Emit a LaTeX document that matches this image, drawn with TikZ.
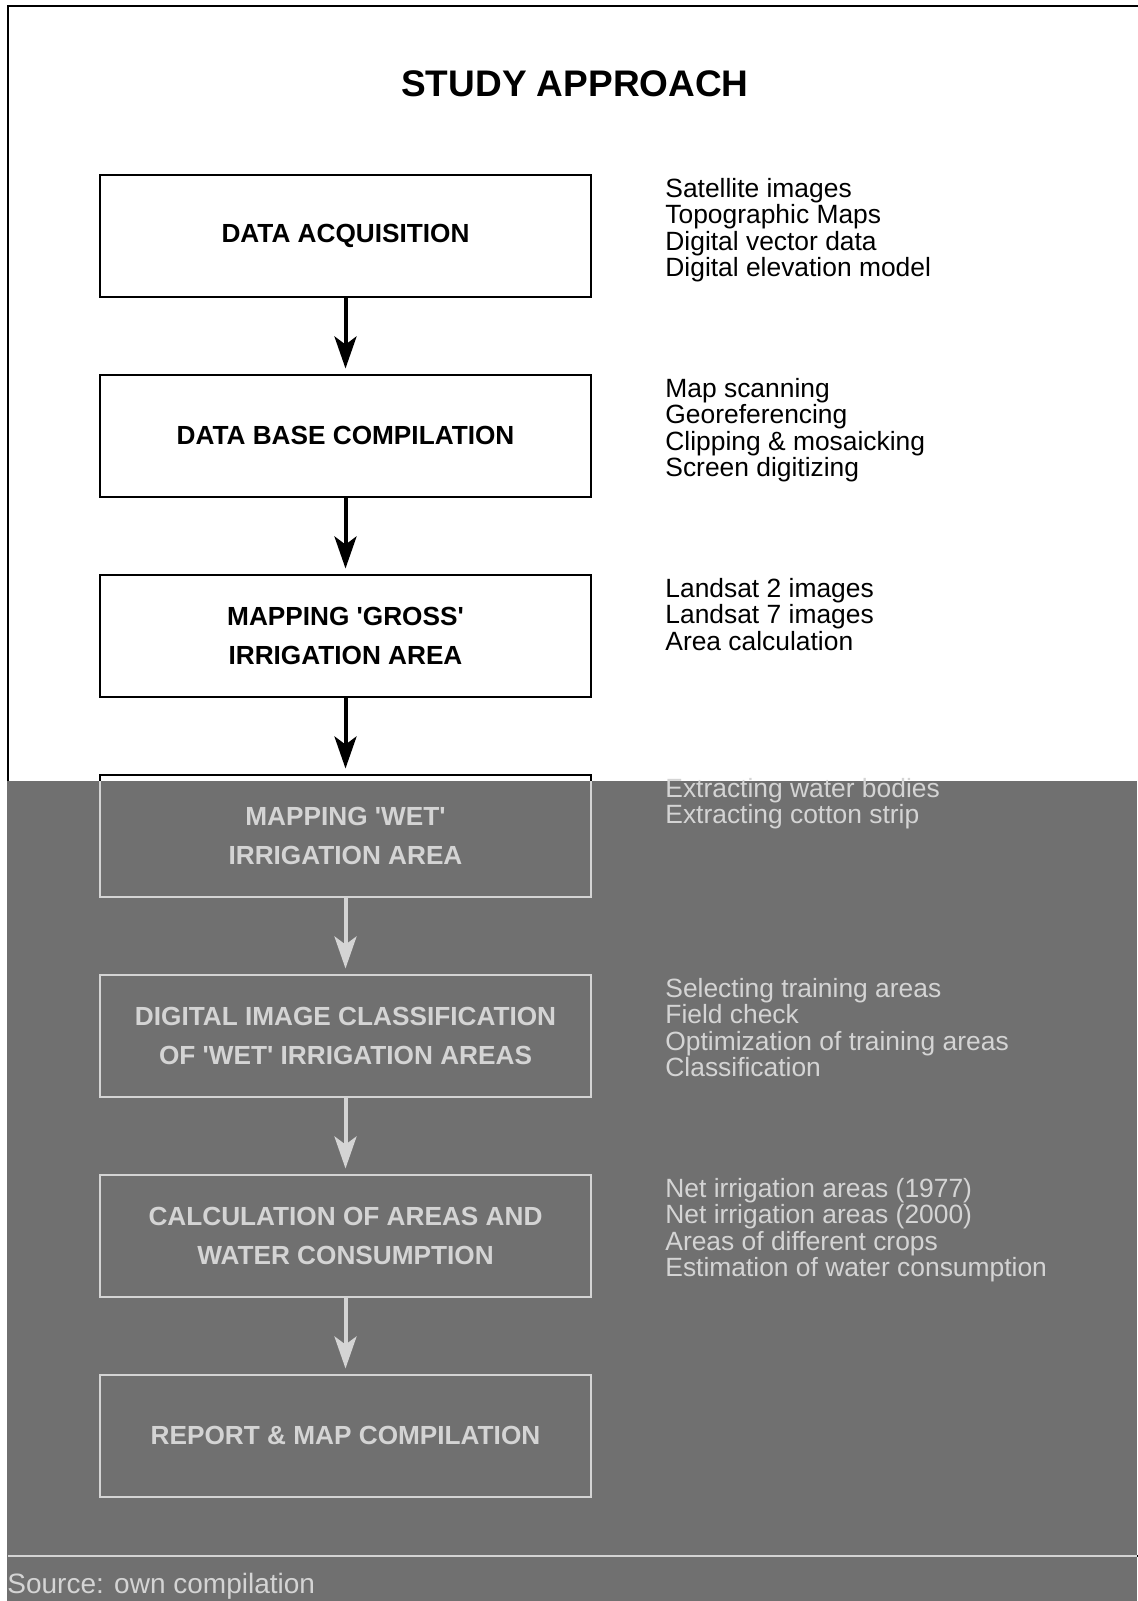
\documentclass[tikz,border=0pt]{standalone}
\usepackage{fontspec}
\setmainfont{Liberation Sans}
\usetikzlibrary{arrows.meta, positioning}
\definecolor{cVeil}{RGB}{112,112,112}
\definecolor{cPale}{RGB}{212,212,212}

\begin{document}
\begin{tikzpicture}[x=0.5pt, y=-0.5pt,
  stage/.style={draw, line width=1pt, minimum width=245.5pt, minimum height=61.25pt, inner sep=2pt, outer sep=0pt, align=center, font=\bfseries\fontsize{13.1pt}{19.5pt}\selectfont},
  notes/.style={inner sep=0pt, align=left, font=\fontsize{13.2pt}{13.25pt}\selectfont},
  flow/.style={-{Stealth[length=16pt, width=11pt, inset=4pt]}, line width=2pt, shorten >=3pt},
  pale/.style={text=cPale}]
  \useasboundingbox (0,0) rectangle (1137,1601);
  % outer frame, runs off the right edge
  \draw[line width=1pt] (1160,6) -- (8,6) -- (8,1556) -- (1160,1556);
  \fill[cVeil] (7,781) rectangle (1137,1601);
  \draw[cPale, line width=1pt] (8,1556) -- (1137,1556);

  \node[font=\bfseries\fontsize{18.5pt}{22pt}\selectfont] (title) at (575,84) {STUDY APPROACH};

  % stages
  \node[stage] (acq) at (345.5,235.75) {DATA ACQUISITION};
  \node[stage, below=38.75pt of acq] (dbase) {DATA BASE COMPILATION};
  \node[stage, below=38.75pt of dbase] (gross) {MAPPING \textquotesingle GROSS\textquotesingle\\IRRIGATION AREA};
  \node[stage, pale, below=38.75pt of gross] (wet) {MAPPING \textquotesingle WET\textquotesingle\\IRRIGATION AREA};
  \node[stage, pale, draw=cPale, below=38.75pt of wet] (classif) {DIGITAL IMAGE CLASSIFICATION\\OF \textquotesingle WET\textquotesingle\ IRRIGATION AREAS};
  \node[stage, pale, draw=cPale, below=38.75pt of classif] (calc) {CALCULATION OF AREAS AND\\WATER CONSUMPTION};
  \node[stage, pale, draw=cPale, below=38.75pt of calc] (report) {REPORT \& MAP COMPILATION};

  % lower part of the 'wet' box lies in the grey band
  \begin{scope}
    \clip (7,781) rectangle (1137,1601);
    \draw[cPale, line width=1pt] (wet.south west) rectangle (wet.north east);
  \end{scope}

  % notes beside the stages
  \node[notes, below right=1.5pt and 37pt of acq.north east] (acqnotes) {Satellite images\\Topographic Maps\\Digital vector data\\Digital elevation model};
  \node[notes, below right=1.5pt and 37pt of dbase.north east] (dbnotes) {Map scanning\\Georeferencing\\Clipping \& mosaicking\\Screen digitizing};
  \node[notes, below right=1.5pt and 37pt of gross.north east] (grossnotes) {Landsat 2 images\\Landsat 7 images\\Area calculation};
  \node[notes, pale, below right=1.5pt and 37pt of wet.north east] (wetnotes) {Extracting water bodies\\Extracting cotton strip};
  \node[notes, pale, below right=1.5pt and 37pt of classif.north east] (clnotes) {Selecting training areas\\Field check\\Optimization of training areas\\Classification};
  \node[notes, pale, below right=1.5pt and 37pt of calc.north east] (calcnotes) {Net irrigation areas (1977)\\Net irrigation areas (2000)\\Areas of different crops\\Estimation of water consumption};

  \draw[flow] (acq) -- (dbase);
  \draw[flow] (dbase) -- (gross);
  \draw[flow] (gross) -- (wet);
  \draw[flow, cPale] (wet) -- (classif);
  \draw[flow, cPale] (classif) -- (calc);
  \draw[flow, cPale] (calc) -- (report);

  \node[pale, anchor=base west, inner sep=0pt, font=\fontsize{14pt}{16pt}\selectfont] (source) at (7,1593) {Source: own compilation};
\end{tikzpicture}
\end{document}
